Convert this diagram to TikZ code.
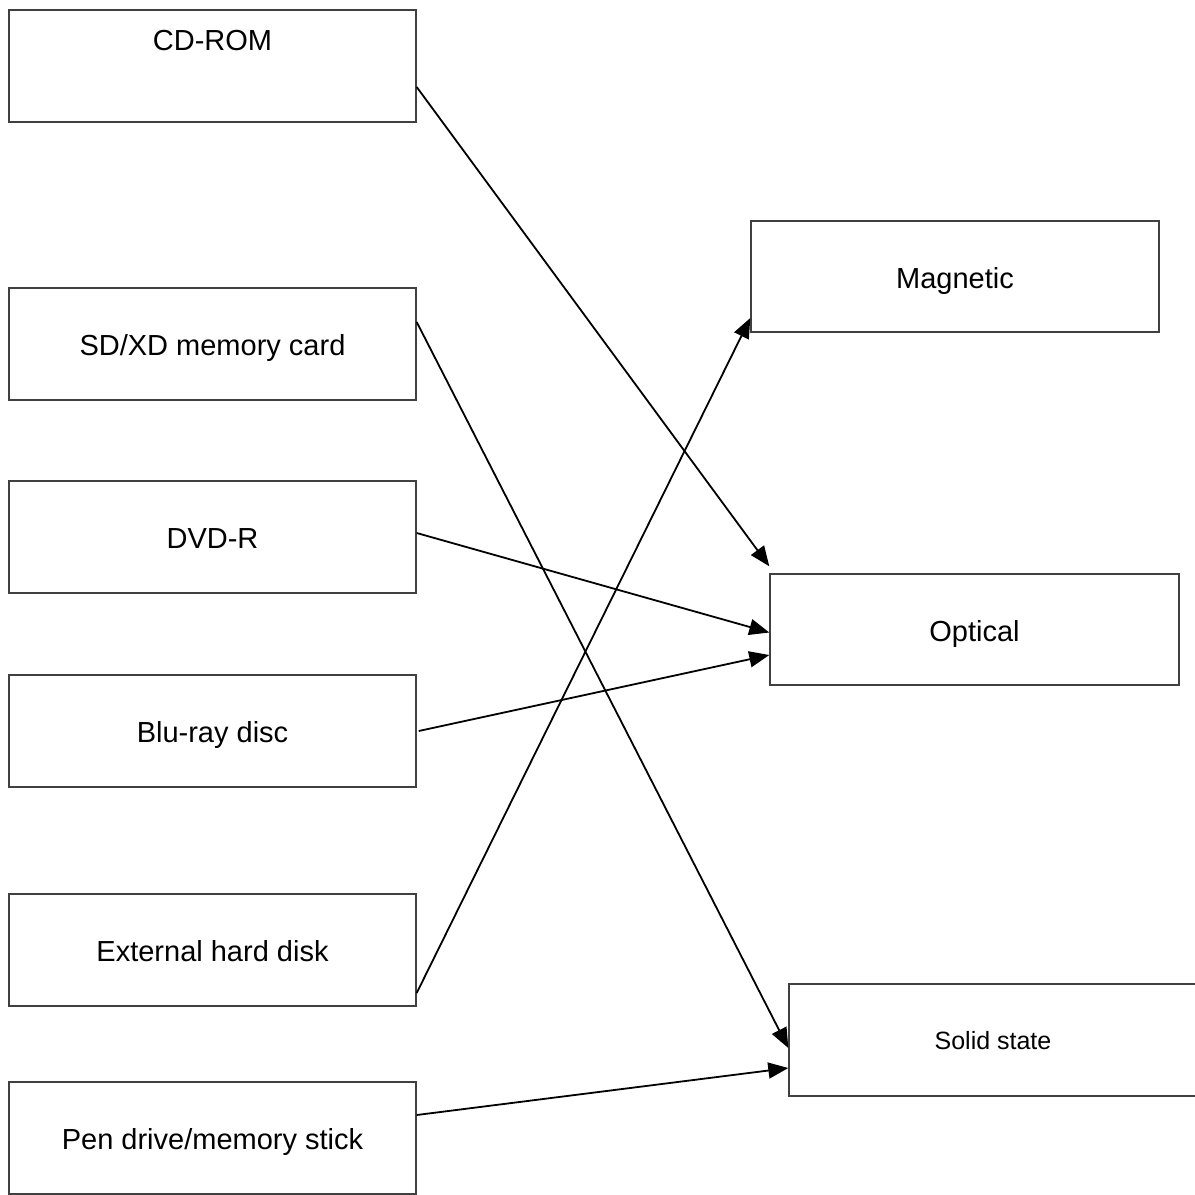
\documentclass[tikz,border=0pt]{standalone}
\usepackage{fontspec}
\setmainfont{Liberation Sans}
\usetikzlibrary{shapes,arrows.meta,positioning,calc}

\begin{document}
\begin{tikzpicture}[x=1pt, y=-1pt,
  box/.style={draw=black!75, line width=1.4pt, rectangle, minimum width=407pt, minimum height=112pt, inner sep=0pt, text height=23pt, text depth=0pt, font=\fontsize{29}{34}\selectfont},
  link/.style={line width=1.8pt, -{Triangle[length=20pt, width=16pt]}}]
\useasboundingbox (0,0) rectangle (1195,1195);

% Speichermedien links
\node[box, text height=21pt, text depth=53pt] (cdrom) at (212.5,66) {CD-ROM};
\node[box] (sdcard) at (212.5,344) {SD/XD memory card};
\node[box] (dvdr) at (212.5,537) {DVD-R};
\node[box] (bluray) at (212.5,731) {Blu-ray disc};
\node[box] (harddisk) at (212.5,950) {External hard disk};
\node[box] (pendrive) at (212.5,1138) {Pen drive/memory stick};

% Kategorien rechts
\node[box, minimum width=408pt, minimum height=111pt] (magnetic) at (955,276.5) {Magnetic};
\node[box, minimum width=409pt, minimum height=111pt] (optical) at (974.5,629.5) {Optical};
\node[box, minimum width=408pt, text height=19pt, font=\fontsize{25}{30}\selectfont] (solid) at (993,1040) {Solid state};

% Zuordnung
\draw[link] ([yshift=-21pt]cdrom.east) -- ([yshift=7pt]optical.north west);
\draw[link] ([yshift=22pt]sdcard.east) -- ([yshift=-8pt]solid.west);
\draw[link] ([yshift=4pt]dvdr.east) -- ([yshift=-3pt]optical.west);
\draw[link] ([xshift=2pt]bluray.east) -- ([yshift=-25.5pt]optical.west);
\draw[link] ([yshift=-43pt]harddisk.east) -- ([yshift=-41.5pt]magnetic.west);
\draw[link] ([yshift=23pt]pendrive.east) -- ([yshift=-28pt]solid.west);
\end{tikzpicture}
\end{document}
